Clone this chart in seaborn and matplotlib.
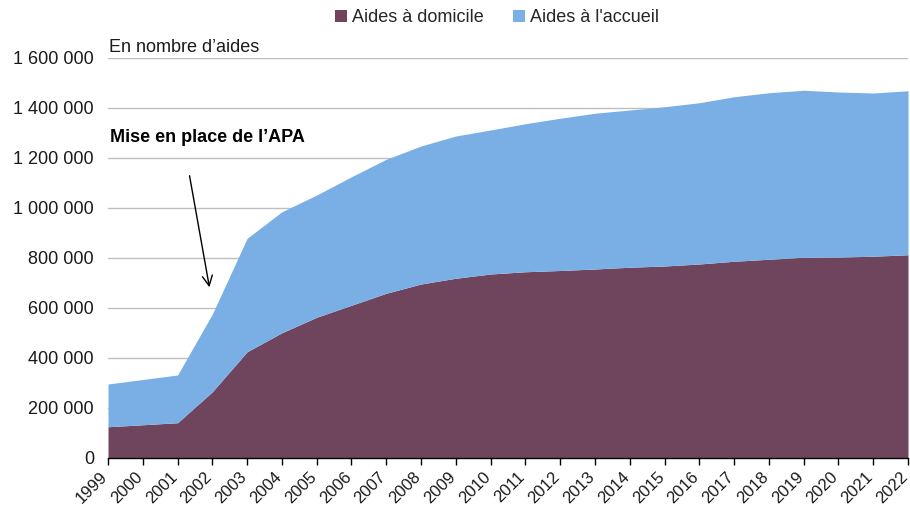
import matplotlib
matplotlib.use("Agg")
import matplotlib.pyplot as plt
import matplotlib.transforms as mtransforms
import seaborn as sns
import numpy as np

years = list(range(1999, 2023))
domicile = [125000, 133000, 141000, 265000, 425000, 501000, 563000, 611000, 659000,
            696000, 719000, 736000, 745000, 750000, 756000, 763000, 768000, 776000,
            787000, 795000, 803000, 804000, 807000, 813000]
total = [296000, 314000, 332000, 576000, 879000, 985000, 1052000, 1125000, 1195000,
         1248000, 1288000, 1312000, 1337000, 1359000, 1379000, 1392000, 1405000, 1421000,
         1445000, 1461000, 1471000, 1464000, 1460000, 1469000]
accueil = [t - d for t, d in zip(total, domicile)]
series_labels = ["Aides à domicile", "Aides à l'accueil"]
yticks = list(range(0, 1600001, 200000))

sns.set_theme(style="white")
plt.rcParams['font.family'] = ['Liberation Sans', 'DejaVu Sans']

colors = ["#6E455C", "#7AAFE6"]

fig = plt.figure(figsize=(9.10, 5.08), dpi=100)
ax = fig.add_axes([108/910, 50/508, 800/910, 400/508])

ax.stackplot(years, domicile, accueil, colors=colors, labels=series_labels, linewidth=0)

ax.set_xlim(1999, 2022)
ax.set_ylim(0, 1600000)
ax.set_yticks(yticks)
ax.set_yticklabels([f"{v:,}".replace(",", " ") for v in yticks], fontsize=13, color="#1a1a1a")
ax.set_xticks(years)
ax.set_xticklabels([str(y) for y in years], rotation=45, ha='right', rotation_mode='anchor',
                   fontsize=12, color="#1a1a1a")
ax.tick_params(axis='x', direction='out', length=5, width=1, color='black', pad=3, bottom=True)
ax.tick_params(axis='y', length=0, pad=10)
offset = mtransforms.ScaledTranslation(-8/100, 0, fig.dpi_scale_trans)
for lab in ax.get_xticklabels():
    lab.set_transform(lab.get_transform() + offset)

ax.yaxis.grid(True, color="#BFBFBF", linewidth=1)
ax.set_axisbelow(True)
for s in ['top', 'right', 'left']:
    ax.spines[s].set_visible(False)
ax.spines['bottom'].set_color('black')
ax.spines['bottom'].set_linewidth(1)
ax.spines['bottom'].set_zorder(5)

ax.text(1999.06, 1280000, "Mise en place de l’APA", fontsize=13, fontweight='bold',
        va='center', ha='left', color='black')
ax.annotate("", xy=(2001.93, 672000), xytext=(2001.33, 1140000),
            arrowprops=dict(arrowstyle="->", color='black', lw=1, mutation_scale=18))

fig.text(109/910, 1 - 47/508, "En nombre d’aides", fontsize=13, va='center', ha='left',
         color="#1a1a1a")

handles, labels = ax.get_legend_handles_labels()
fig.legend(handles, labels, loc='center', bbox_to_anchor=(497/910, 1 - 18/508), ncol=2,
           frameon=False, fontsize=13, handlelength=0.65, handleheight=0.65,
           handletextpad=0.3, columnspacing=1.6)

fig.savefig("out.png", dpi=100)
